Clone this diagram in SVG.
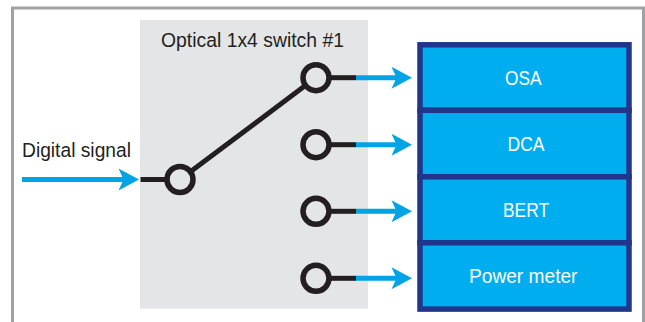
<svg xmlns="http://www.w3.org/2000/svg" width="645" height="322" viewBox="0 0 645 322">
<style>
text{font-family:"Liberation Sans",Arial,sans-serif;font-size:20.500px}
.d{fill:#231f20}
.w{fill:#fff}
.port{fill:none;stroke:#231f20;stroke-width:5.500}
.stub{stroke:#231f20;stroke-width:5;fill:none}
.sig{stroke:#00a4e4;stroke-width:5;fill:none}
.head{fill:#00a4e4}
.cell{fill:#00aeef;stroke:#21368a;stroke-width:5.500}
</style>
<defs>
<path id="h" class="head" d="M0 0L-20.500 -11L-15.500 0L-20.500 11Z"/>
</defs>
<rect id="frame" x="12.500" y="8" width="631" height="320" fill="#fff" stroke="#a0a1a3" stroke-width="3"/>
<g id="switch">
<rect x="140" y="20" width="228" height="288.700" fill="#e4e5e7"/>
<text class="d" x="161" y="47" textLength="183" lengthAdjust="spacingAndGlyphs">Optical 1x4 switch #1</text>
</g>
<g id="instruments">
<g id="osa"><rect class="cell" x="420" y="44.800" width="209" height="65.500"/><text class="w" x="505" y="84.700" textLength="36.500" lengthAdjust="spacingAndGlyphs">OSA</text></g>
<g id="dca"><rect class="cell" x="420" y="110.300" width="209" height="66.500"/><text class="w" x="507.500" y="150.700" textLength="37" lengthAdjust="spacingAndGlyphs">DCA</text></g>
<g id="bert"><rect class="cell" x="420" y="176.800" width="209" height="66"/><text class="w" x="503" y="216.700" textLength="46" lengthAdjust="spacingAndGlyphs">BERT</text></g>
<g id="power"><rect class="cell" x="420" y="242.800" width="209" height="66.300"/><text class="w" x="469" y="283" textLength="108.500" lengthAdjust="spacingAndGlyphs">Power meter</text></g>
</g>
<g id="connectors">
<line class="sig" x1="22" y1="179.500" x2="125" y2="179.500"/><use href="#h" x="139" y="179.500"/>
<line class="stub" x1="140.500" y1="179.500" x2="167" y2="179.500"/>
<line class="stub" x1="190" y1="172" x2="306" y2="85"/>
<line class="stub" x1="329" y1="77.700" x2="356" y2="77.700"/><line class="sig" x1="356" y1="77.700" x2="398" y2="77.700"/><use href="#h" x="412" y="77.700"/>
<line class="stub" x1="329" y1="144.700" x2="356" y2="144.700"/><line class="sig" x1="356" y1="144.700" x2="398" y2="144.700"/><use href="#h" x="412" y="144.700"/>
<line class="stub" x1="329" y1="211.300" x2="356" y2="211.300"/><line class="sig" x1="356" y1="211.300" x2="398" y2="211.300"/><use href="#h" x="412" y="211.300"/>
<line class="stub" x1="329" y1="278.300" x2="356" y2="278.300"/><line class="sig" x1="356" y1="278.300" x2="398" y2="278.300"/><use href="#h" x="412" y="278.300"/>
</g>
<g id="in-port"><circle class="port" cx="180" cy="179.500" r="13"/></g>
<g id="port-1"><circle class="port" cx="316" cy="77.700" r="13"/></g>
<g id="port-2"><circle class="port" cx="316" cy="144.700" r="13"/></g>
<g id="port-3"><circle class="port" cx="316" cy="211.300" r="13"/></g>
<g id="port-4"><circle class="port" cx="316" cy="278.300" r="13"/></g>
<g id="input-label"><text class="d" x="22" y="157" textLength="109" lengthAdjust="spacingAndGlyphs">Digital signal</text></g>
</svg>
